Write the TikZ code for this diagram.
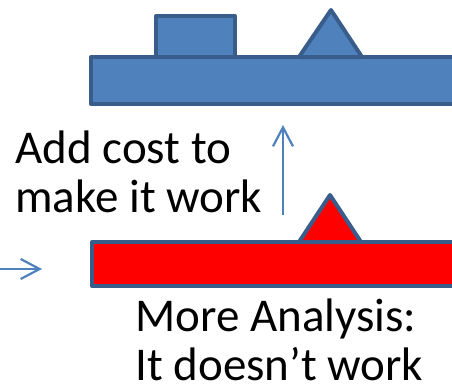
\documentclass[tikz,border=0pt]{standalone}
\usepackage{fontspec}
\setmainfont{Carlito}
\usetikzlibrary{arrows.meta}
\definecolor{boxblue}{HTML}{4F81BD}
\definecolor{edgeblue}{HTML}{385D8A}
\tikzset{part/.style={draw=edgeblue, line width=2pt, line join=round},
  thin arrow/.style={draw=boxblue, line width=1.1pt, -{Straight Barb[length=9.5pt,width=10pt]}},
  words/.style={font=\fontsize{23.5}{24.5}\selectfont, align=left, inner sep=0pt, anchor=base west}}

\begin{document}
\begin{tikzpicture}[x=0.5pt, y=-0.5pt]
\useasboundingbox (0,0) rectangle (452,392);
\clip (0,0) rectangle (452,392);

% Top design: bar with a block and a cone on it
\draw[part, fill=boxblue] (91,57) rectangle (470,104);
\draw[part, fill=boxblue] (156,16) rectangle (235,57);
\draw[part, fill=boxblue] (299,57) -- (331,10) -- (362,57) -- cycle;

% Bottom design: red bar, only the cone
\draw[part, fill=red] (92,242) rectangle (470,286);
\draw[part, fill=red] (299,242) -- (330,195) -- (361,242) -- cycle;

% Labels (base is the last line)
\node[words] (cost)     at (15,212)  {Add cost to\\make it work};
\node[words] (analysis) at (135,380) {More Analysis:\\It doesn’t work};

% Arrows
\coordinate (upfrom) at (283,215);
\coordinate (upto)   at (283,125);
\coordinate (infrom) at (0,269);
\coordinate (into)   at (42,269);
\draw[thin arrow] (upfrom) -- (upto);
\draw[thin arrow] (infrom) -- (into);

\end{tikzpicture}
\end{document}
